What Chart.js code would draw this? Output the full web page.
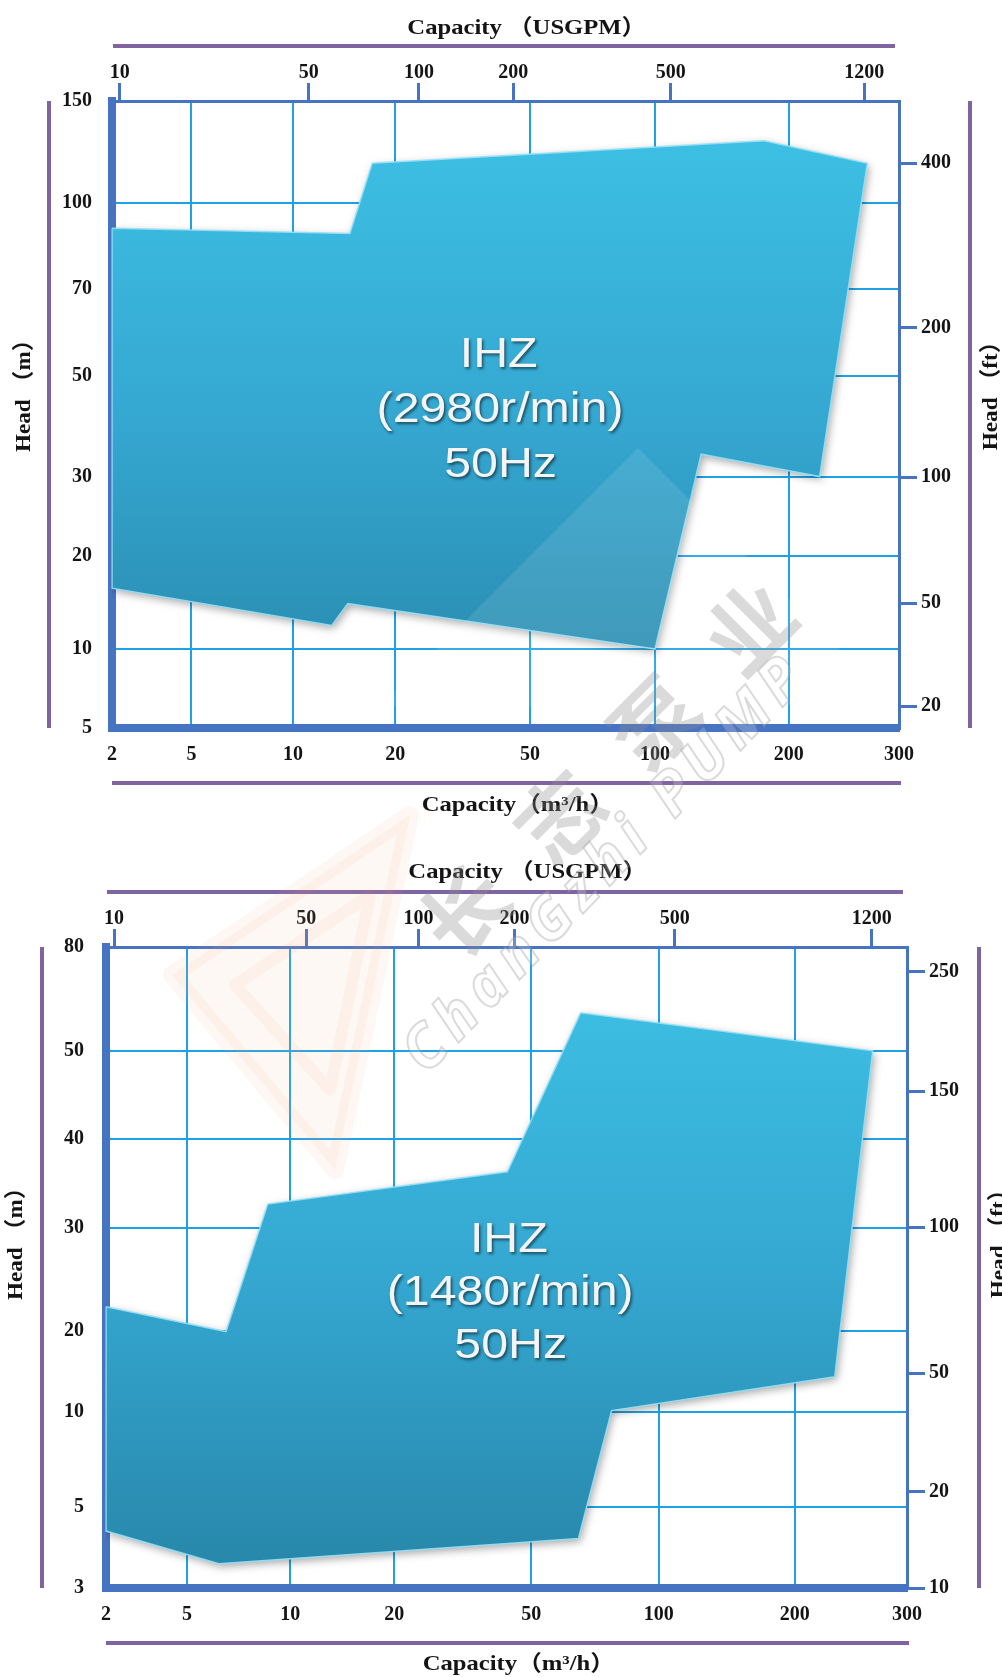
<!DOCTYPE html>
<html>
<head>
<meta charset="utf-8">
<title>IHZ performance range</title>
<script src="https://cdn.jsdelivr.net/npm/chart.js@4.4.1/dist/chart.umd.min.js"></script>
<style>
  body { margin: 0; background: #fff; }
  #page { position: relative; width: 1002px; height: 1677px; overflow: hidden; }
  canvas { position: absolute; left: 0; }
  #c1 { top: 0; }
  #c2 { top: 830px; }
  .wm { position: absolute; white-space: nowrap; pointer-events: none; transform-origin: 0 0; }
  svg.wm { left: 0; top: 0; }
</style>
</head>
<body>
<div id="page">
  <canvas id="c1" width="1002" height="830"></canvas>
  <canvas id="c2" width="1002" height="847"></canvas>
  <svg class="wm" width="1002" height="1677">
    <polygon points="638,448 380,706 896,706" fill="#ffffff" fill-opacity="0.1"/>
    <polygon points="172,975 410,815 335,1170" fill="#f7b08a" fill-opacity="0.09"
             stroke="#f29a6a" stroke-opacity="0.08" stroke-width="18" stroke-linejoin="round"/>
    <polygon points="235,985 370,895 330,1090" fill="none"
             stroke="#f29a6a" stroke-opacity="0.08" stroke-width="12" stroke-linejoin="round"/>
  </svg>
  <div class="wm" style="left:604px;top:766px;transform:rotate(-45deg) translate(-50%,-50%);
       font:bold 86px 'Noto Sans CJK SC',sans-serif;color:rgba(140,140,140,0.32);letter-spacing:48px;padding-left:48px">长志泵业</div>
  <div class="wm" style="left:603px;top:860px;transform:rotate(-46deg) translate(-50%,-50%);
       font:italic bold 60px 'Noto Sans',sans-serif;color:rgba(255,255,255,0.2);
       -webkit-text-stroke:2px rgba(150,150,150,0.35);letter-spacing:8px">ChanGzhi PUMP</div>
</div>
<script>
// capacity axis (m3/h): ticks and where each one sits along the axis (0 = left, 1 = right)
const capTicks = [2, 5, 10, 20, 50, 100, 200, 300];
const capAt = [0, 0.101, 0.230, 0.360, 0.531, 0.690, 0.860, 1];

// capacity axis on top (USGPM)
const gpmTicks = [10, 50, 100, 200, 500, 1200];
const gpmKnots = [8.8, 10, 50, 100, 200, 500, 1200, 1321];
const gpmAt = [0, 0.010, 0.250, 0.390, 0.510, 0.710, 0.956, 1];

// head (m), both charts use the same spacing
const headAt = [0, 0.126, 0.275, 0.401, 0.562, 0.700, 0.838, 1];
const head2980Ticks = [5, 10, 20, 30, 50, 70, 100, 150];
const head1480Ticks = [3, 5, 10, 20, 30, 40, 50, 80];

// head (ft)
const ft2980Ticks = [20, 50, 100, 200, 400];
const ft2980Knots = [16.4, 20, 50, 100, 200, 400, 492];
const ft2980At = [0, 0.035, 0.199, 0.400, 0.638, 0.901, 1];
const ft1480Ticks = [10, 20, 50, 100, 150, 250];
const ft1480Knots = [10, 20, 50, 100, 150, 250, 262];
const ft1480At = [0, 0.150, 0.335, 0.563, 0.775, 0.961, 1];

// working range outline: Q (m3/h) and H (m), clockwise from top left
const q2980 = [2, 14.7, 17.1, 176, 267, 224, 127, 100, 14.5, 13.0, 2, 2];
const h2980 = [90, 88, 117, 128, 117, 30, 33.6, 10, 14.0, 11.9, 15.7, 90];
const q1480 = [2, 6.5, 8.6, 42.6, 65.4, 265, 231, 77.4, 64.6, 6.2, 2, 2];
const h1480 = [22.0, 19.9, 32.4, 36, 59.4, 50, 13.5, 10.1, 4.1, 3.5, 4.3, 22.0];

const label2980 = ['IHZ', '(2980r/min)', '50Hz'];
const label2980At = [40.8, 42];
const label1480 = ['IHZ', '(1480r/min)', '50Hz'];
const label1480At = [43.4, 23.2];

const GRID = '#1ea2e6';
const AXIS = '#4673c2';
const PURPLE = '#8064a2';
const INK = '#141414';
const SERIF = "'Liberation Serif', 'Times New Roman', 'Noto Sans CJK SC', serif";
const SANS = "'Liberation Sans', Arial, sans-serif";

const WARPS = {
  cap: { knots: capTicks, at: capAt, ticks: capTicks },
  gpm: { knots: gpmKnots, at: gpmAt, ticks: gpmTicks },
  head2980: { knots: head2980Ticks, at: headAt, ticks: head2980Ticks },
  ft2980: { knots: ft2980Knots, at: ft2980At, ticks: ft2980Ticks },
  head1480: { knots: head1480Ticks, at: headAt, ticks: head1480Ticks },
  ft1480: { knots: ft1480Knots, at: ft1480At, ticks: ft1480Ticks }
};

// log steps between the printed ticks, which are not evenly spaced on the sheet
function toDecimal(w, v) {
  let i = 1;
  while (i < w.knots.length - 1 && v > w.knots[i]) i++;
  const a = w.knots[i - 1], b = w.knots[i];
  return w.at[i - 1] + (w.at[i] - w.at[i - 1]) * Math.log(v / a) / Math.log(b / a);
}

function fromDecimal(w, d) {
  let i = 1;
  while (i < w.at.length - 1 && d > w.at[i]) i++;
  const a = w.knots[i - 1], b = w.knots[i];
  return a * Math.pow(b / a, (d - w.at[i - 1]) / (w.at[i] - w.at[i - 1]));
}

class WarpScale extends Chart.LinearScale {
  get warp() { return WARPS[this.options.warp]; }
  determineDataLimits() {
    const k = this.warp.knots;
    this.min = k[0];
    this.max = k[k.length - 1];
  }
  buildTicks() {
    return this.warp.ticks.map(v => ({ value: v }));
  }
  getPixelForValue(v) {
    return this.getPixelForDecimal(toDecimal(this.warp, v));
  }
  getValueForPixel(p) {
    return fromDecimal(this.warp, this.getDecimalForPixel(p));
  }
}
WarpScale.id = 'warp';
WarpScale.defaults = {};
Chart.register(WarpScale);

function tickFont() {
  return { family: SERIF, size: 20, weight: 'bold', lineHeight: 1 };
}

const edgeless = c => (c.index === 0 || c.index === c.scale.ticks.length - 1) ? 'rgba(0,0,0,0)' : GRID;

function centredText(ctx, text, cx, cy, rot, sx) {
  ctx.save();
  ctx.translate(cx, cy);
  ctx.rotate(rot);
  ctx.scale(sx, 1);
  ctx.textAlign = 'left';
  ctx.textBaseline = 'middle';
  const m = ctx.measureText(text);
  ctx.fillText(text, -(m.actualBoundingBoxRight - m.actualBoundingBoxLeft) / 2, 0);
  ctx.restore();
}

function line(ctx, x1, y1, x2, y2) {
  ctx.beginPath();
  ctx.moveTo(x1, y1);
  ctx.lineTo(x2, y2);
  ctx.stroke();
}

function decoFor(cfg) {
  return {
    id: 'deco',
    beforeDatasetsDraw(chart) {
      const ctx = chart.ctx;
      ctx.save();
      ctx.shadowColor = 'rgba(0,0,0,0.35)';
      ctx.shadowBlur = 8;
      ctx.shadowOffsetX = 2;
      ctx.shadowOffsetY = 3;
    },
    beforeDatasetDraw(chart) {
      // fill is done by now, keep the shadow off the outline
      chart.ctx.shadowColor = 'rgba(0,0,0,0)';
    },
    afterDatasetsDraw(chart) {
      const ctx = chart.ctx;
      ctx.restore();
      const x = chart.scales.x.getPixelForValue(cfg.labelAt[0]);
      const y = chart.scales.y.getPixelForValue(cfg.labelAt[1]);
      ctx.save();
      ctx.font = '42px ' + SANS;
      ctx.fillStyle = '#f4f4f4';
      ctx.shadowColor = 'rgba(0,0,0,0.55)';
      ctx.shadowBlur = 3;
      ctx.shadowOffsetX = 1.5;
      ctx.shadowOffsetY = 2;
      cfg.label.forEach((t, i) => centredText(ctx, t, x, y + (i - 1) * cfg.labelGap, 0, 1.15));
      ctx.restore();
    },
    afterDraw(chart) {
      const { ctx, chartArea: a } = chart;
      const d = cfg.deco;
      const cx = (a.left + a.right) / 2;
      const cy = (a.top + a.bottom) / 2;
      ctx.save();
      ctx.strokeStyle = PURPLE;
      ctx.lineWidth = 4;
      line(ctx, a.left + 1, a.top - 55, a.right - 4, a.top - 55);
      line(ctx, a.left, a.bottom + 55, a.right + 2, a.bottom + 55);
      line(ctx, a.left - d.leftLine, a.top, a.left - d.leftLine, a.bottom);
      line(ctx, a.right + d.rightLine, a.top, a.right + d.rightLine, a.bottom);

      ctx.fillStyle = INK;
      ctx.font = 'bold 22px ' + SERIF;
      centredText(ctx, 'Capacity （USGPM）', cx + 14, a.top - d.topTitle, 0, 1.12);
      centredText(ctx, 'Capacity（m³/h）', cx + 5, a.bottom + d.bottomTitle, 0, 1.12);
      centredText(ctx, 'Head （m）', a.left - d.leftTitle, cy + d.sideShift, -Math.PI / 2, 1.05);
      centredText(ctx, 'Head （ft）', a.right + 92, cy + d.sideShift, -Math.PI / 2, 1.05);
      ctx.restore();
    }
  };
}

function shapeFill(chart) {
  const a = chart.chartArea;
  if (!a) return '#36acd6';
  const g = chart.ctx.createLinearGradient(0, a.top, 0, a.bottom);
  g.addColorStop(0, '#3ec2e6');
  g.addColorStop(0.5, '#35a8d2');
  g.addColorStop(1, '#2785a8');
  return g;
}

function drawChart(id, cfg) {
  const tickBase = { font: tickFont(), color: INK, autoSkip: false, maxRotation: 0, minRotation: 0, callback: v => String(v) };
  return new Chart(document.getElementById(id), {
    type: 'line',
    data: {
      datasets: [{
        data: cfg.q.map((x, i) => ({ x: x, y: cfg.h[i] })),
        xAxisID: 'x',
        yAxisID: 'y',
        fill: 'shape',
        backgroundColor: c => shapeFill(c.chart),
        borderColor: 'rgba(150,225,246,0.9)',
        borderWidth: 1.5,
        pointRadius: 0,
        tension: 0
      }]
    },
    options: {
      responsive: false,
      animation: false,
      events: [],
      layout: { padding: 0 },
      plugins: { legend: { display: false }, tooltip: { enabled: false } },
      scales: {
        x: {
          type: 'warp', warp: 'cap', position: 'bottom',
          grid: { color: edgeless, lineWidth: 2, drawTicks: false },
          border: { color: AXIS, width: 8 },
          ticks: Object.assign({}, tickBase, { padding: 17 }),
          afterFit: s => { s.height = cfg.box.bottom; }
        },
        x2: {
          type: 'warp', warp: 'gpm', position: 'top',
          grid: { drawOnChartArea: false, drawTicks: true, tickLength: 18, tickWidth: 3, tickColor: AXIS, color: AXIS, lineWidth: 3 },
          border: { color: AXIS, width: 3 },
          ticks: Object.assign({}, tickBase, { padding: 0 }),
          afterFit: s => { s.height = cfg.box.top; }
        },
        y: {
          type: 'warp', warp: cfg.head, position: 'left',
          grid: { color: edgeless, lineWidth: 2, drawTicks: false },
          border: { color: AXIS, width: 8 },
          ticks: Object.assign({}, tickBase, { padding: cfg.leftPad }),
          afterFit: s => { s.width = cfg.box.left; }
        },
        y2: {
          type: 'warp', warp: cfg.ft, position: 'right',
          grid: { drawOnChartArea: false, drawTicks: true, tickLength: 18, tickWidth: 3, tickColor: AXIS, color: AXIS, lineWidth: 3 },
          border: { color: AXIS, width: 3 },
          ticks: Object.assign({}, tickBase, { padding: 4 }),
          afterFit: s => { s.width = cfg.box.right; }
        }
      }
    },
    plugins: [decoFor(cfg)]
  });
}

drawChart('c1', {
  q: q2980, h: h2980, head: 'head2980', ft: 'ft2980',
  label: label2980, labelAt: label2980At, labelGap: 55,
  box: { left: 112, right: 103, top: 101, bottom: 102 },
  leftPad: 20,
  deco: { leftLine: 63, rightLine: 71, topTitle: 73, bottomTitle: 77, leftTitle: 88, sideShift: -17 }
});

drawChart('c2', {
  q: q1480, h: h1480, head: 'head1480', ft: 'ft1480',
  label: label1480, labelAt: label1480At, labelGap: 53,
  box: { left: 106, right: 95, top: 117, bottom: 89 },
  leftPad: 22,
  deco: { leftLine: 64, rightLine: 72, topTitle: 75, bottomTitle: 76, leftTitle: 90, sideShift: -22 }
});
</script>
</body>
</html>
